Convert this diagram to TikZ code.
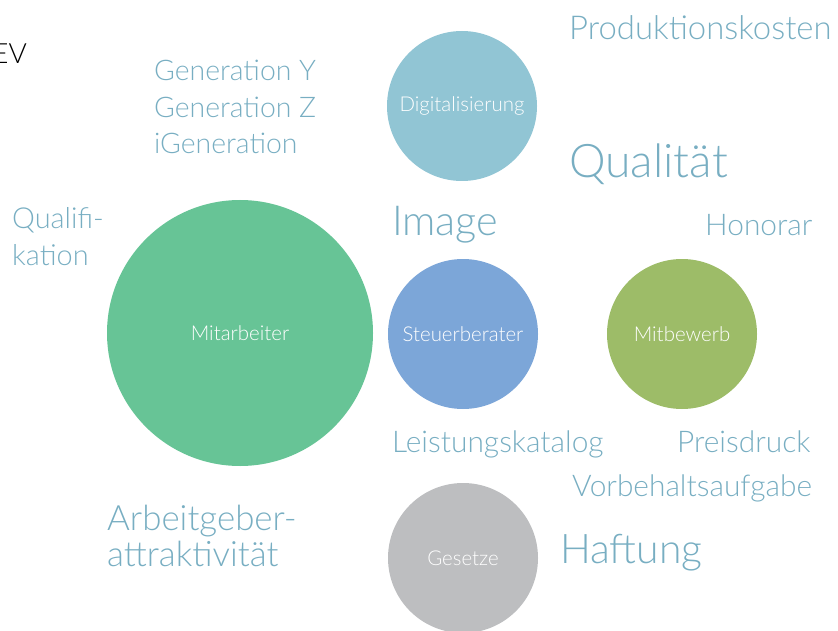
\documentclass[tikz,border=0pt]{standalone}
\usepackage{fontspec}
\setmainfont{Lato Light}
\usepackage{tikz}

\definecolor{wordblue}{HTML}{78AEC2}
\definecolor{digiblue}{HTML}{91C5D4}
\definecolor{staffgreen}{HTML}{67C496}
\definecolor{advblue}{HTML}{7CA6D8}
\definecolor{compgreen}{HTML}{9DBC68}
\definecolor{lawgray}{HTML}{BDBEC0}

\tikzset{
	word/.style={anchor=base west, inner sep=0pt, text=wordblue, align=left},
	ball/.style={circle, inner sep=0pt, text=white, font=\fontsize{20.5}{24}\selectfont},
}

\begin{document}
\begin{tikzpicture}[x=1bp,y=-1bp,every node/.style={black}]
	\useasboundingbox (0,0) rectangle (838,631);

	\coordinate (D) at (462,106);
	\coordinate (M) at (240,333);
	\coordinate (S) at (463,334);
	\coordinate (W) at (682,334);
	\coordinate (G) at (463,558);

	\fill[digiblue] (D) circle (75);
	\fill[staffgreen] (M) circle (133);
	\fill[advblue] (S) circle (75);
	\fill[compgreen] (W) circle (75);
	\fill[lawgray] (G) circle (75);

	\node[ball] (digi) at (D) {Digitalisierung};
	\node[ball] (staff) at (M) {Mitarbeiter};
	\node[ball] (adv) at (S) {Steuerberater};
	\node[ball] (comp) at (W) {Mitbewerb};
	\node[ball] (law) at (G) {Gesetze};

	% last line is the base of a two-line word
	\node[word, text=black, anchor=base east, font=\fontsize{28}{30}\selectfont] (ev) at (27,64) {EV};

	\node[word, font=\fontsize{33}{38}\selectfont] (cost) at (569,40) {Produktionskosten};
	\node[word, font=\fontsize{28.5}{34}\selectfont] (geny) at (154,81) {Generation Y};
	\node[word, font=\fontsize{28.5}{34}\selectfont] (genz) at (154,118) {Generation Z};
	\node[word, font=\fontsize{28.5}{34}\selectfont] (geni) at (154,154) {iGeneration};
	\node[word, font=\fontsize{46.5}{50}\selectfont] (qual) at (569,178) {Qualität};
	\node[word, font=\fontsize{29}{37}\selectfont] (qualif) at (12,265) {Qualifi-\\kation};
	\node[word, font=\fontsize{41.5}{46}\selectfont] (img) at (392,236) {Image};
	\node[word, font=\fontsize{30}{34}\selectfont] (fee) at (705,236) {Honorar};
	\node[word, font=\fontsize{30}{34}\selectfont] (cat) at (392,452) {Leistungskatalog};
	\node[word, font=\fontsize{30}{34}\selectfont] (price) at (677,452) {Preisdruck};
	\node[word, font=\fontsize{30}{34}\selectfont] (res) at (572,496) {Vorbehaltsaufgabe};
	\node[word, font=\fontsize{35}{36}\selectfont] (empl) at (107,566) {Arbeitgeber-\\attraktivität};
	\node[word, font=\fontsize{41}{44}\selectfont] (liab) at (560,563) {Haftung};
\end{tikzpicture}
\end{document}
